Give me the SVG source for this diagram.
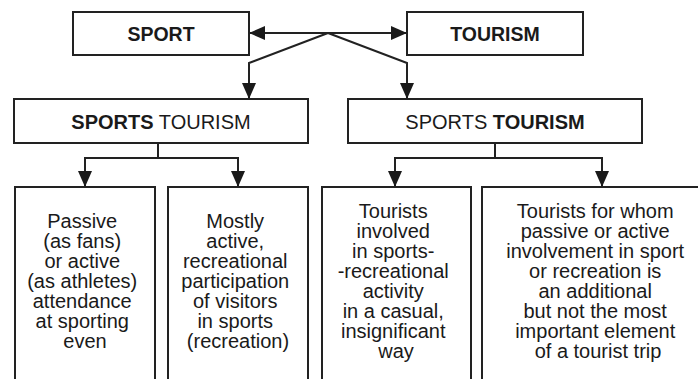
<svg xmlns="http://www.w3.org/2000/svg" width="698" height="379" viewBox="0 0 698 379">
  <defs>
    <marker id="ah" markerUnits="userSpaceOnUse" markerWidth="17" markerHeight="14" refX="16" refY="7" orient="auto-start-reverse">
      <path d="M0,0 L16,7 L0,14 Z" fill="#1a1a1a"/>
    </marker>
  </defs>
  <style>
    .box { fill: #fff; stroke: #222; stroke-width: 2; }
    .con { fill: none; stroke: #222; stroke-width: 2; }
    text { font-family: "Liberation Sans", Arial, sans-serif; fill: #1a1a1a; text-anchor: middle; }
    .t1 { font-size: 19.5px; font-weight: bold; }
    .t2 { font-size: 20px; }
    .t3 { font-size: 20px; }
    .b { font-weight: bold; }
  </style>
  <rect width="698" height="379" fill="#fff"/>

  <g id="connectors">
    <path class="con" d="M249,33 H407" marker-start="url(#ah)" marker-end="url(#ah)"/>
    <path class="con" d="M328,33 L249,63 V99" marker-end="url(#ah)"/>
    <path class="con" d="M328,33 L407,63 V99" marker-end="url(#ah)"/>
    <path class="con" d="M158,143 V158"/>
    <path class="con" d="M158,158 H85 V187" marker-end="url(#ah)"/>
    <path class="con" d="M158,158 H238 V187" marker-end="url(#ah)"/>
    <path class="con" d="M495,143 V158"/>
    <path class="con" d="M495,158 H395 V187" marker-end="url(#ah)"/>
    <path class="con" d="M495,158 H602 V187" marker-end="url(#ah)"/>
  </g>

  <g id="sport">
    <rect class="box" x="73" y="12" width="176" height="43"/>
    <text class="t1" x="161" y="41">SPORT</text>
  </g>
  <g id="tourism">
    <rect class="box" x="407" y="12" width="176" height="43"/>
    <text class="t1" x="495" y="41">TOURISM</text>
  </g>

  <g id="sports-tourism-left">
    <rect class="box" x="14" y="99" width="294" height="44"/>
    <text class="t2" x="161" y="129"><tspan class="b">SPORTS</tspan> TOURISM</text>
  </g>
  <g id="sports-tourism-right">
    <rect class="box" x="348" y="99" width="294" height="44"/>
    <text class="t2" x="495" y="129">SPORTS <tspan class="b">TOURISM</tspan></text>
  </g>

  <g id="passive">
    <rect class="box" x="15" y="187" width="140" height="210"/>
    <text class="t3">
      <tspan x="85" y="228">Passive</tspan>
      <tspan x="85" y="248">(as fans)</tspan>
      <tspan x="85" y="268">or active</tspan>
      <tspan x="85" y="288">(as athletes)</tspan>
      <tspan x="85" y="308">attendance</tspan>
      <tspan x="85" y="328">at sporting</tspan>
      <tspan x="85" y="348">even</tspan>
    </text>
  </g>
  <g id="mostly-active">
    <rect class="box" x="168" y="187" width="140" height="210"/>
    <text class="t3">
      <tspan x="238" y="228">Mostly</tspan>
      <tspan x="238" y="248">active,</tspan>
      <tspan x="238" y="268">recreational</tspan>
      <tspan x="238" y="288">participation</tspan>
      <tspan x="238" y="308">of visitors</tspan>
      <tspan x="238" y="328">in sports</tspan>
      <tspan x="238" y="348">(recreation)</tspan>
    </text>
  </g>
  <g id="casual">
    <rect class="box" x="322" y="187" width="149" height="210"/>
    <text class="t3">
      <tspan x="396" y="218">Tourists</tspan>
      <tspan x="396" y="238">involved</tspan>
      <tspan x="396" y="258">in sports-</tspan>
      <tspan x="396" y="278">-recreational</tspan>
      <tspan x="396" y="298">activity</tspan>
      <tspan x="396" y="318">in a casual,</tspan>
      <tspan x="396" y="338">insignificant</tspan>
      <tspan x="396" y="358">way</tspan>
    </text>
  </g>
  <g id="additional">
    <rect class="box" x="482" y="187" width="240" height="210"/>
    <text class="t3">
      <tspan x="598" y="218">Tourists for whom</tspan>
      <tspan x="598" y="238">passive or active</tspan>
      <tspan x="598" y="258">involvement in sport</tspan>
      <tspan x="598" y="278">or recreation is</tspan>
      <tspan x="598" y="298">an additional</tspan>
      <tspan x="598" y="318">but not the most</tspan>
      <tspan x="598" y="338">important element</tspan>
      <tspan x="598" y="358">of a tourist trip</tspan>
    </text>
  </g>
</svg>
